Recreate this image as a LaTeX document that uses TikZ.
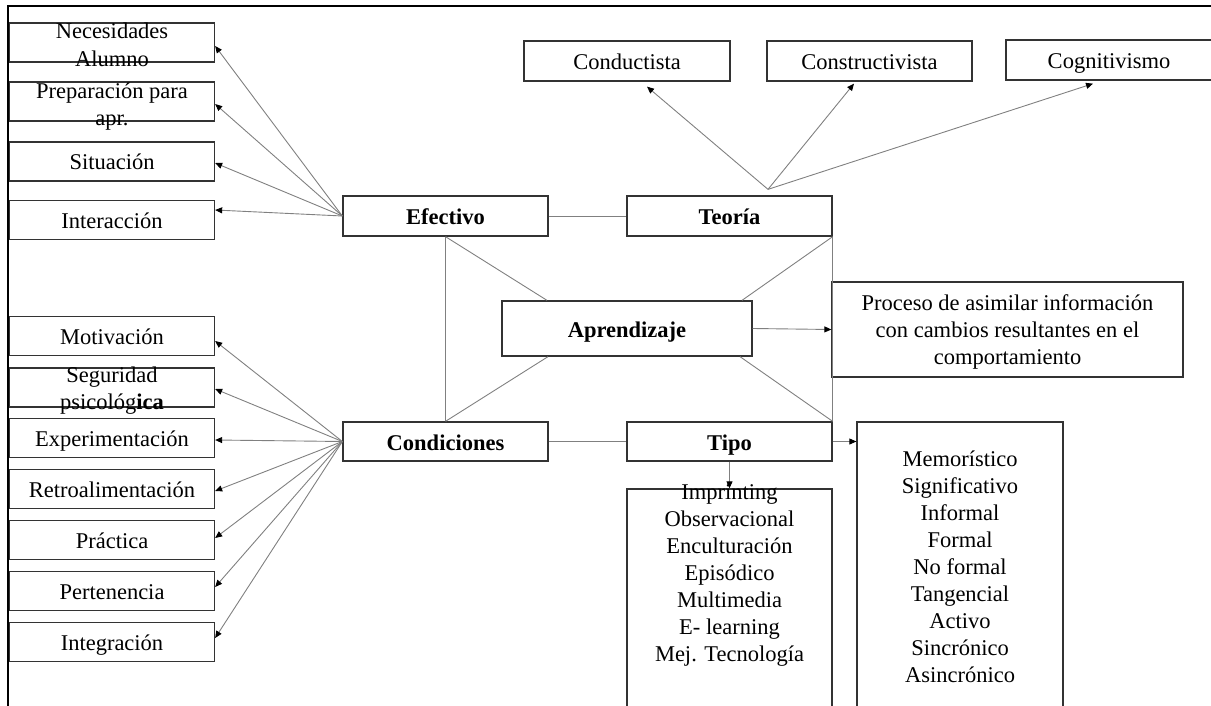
\documentclass[tikz,border=0pt]{standalone}
\usepackage{fontspec}
\setmainfont{Liberation Serif}
\usetikzlibrary{arrows.meta}
\begin{document}
\begin{tikzpicture}[x=1pt,y=-1pt,
  txt/.style={font=\fontsize{22.5}{27}\selectfont},
  bxbase/.style={txt, draw=black!80, line width=1.3pt, minimum width=205pt, minimum height=39pt, inner sep=0pt},
  bx/.style={bxbase, text height=17pt, text depth=0pt},
  bbx/.style={bx, font=\fontsize{22.5}{27}\selectfont\bfseries},
  lbl/.style={txt, align=center, inner sep=0pt},
  conn/.style={draw=black!50, line width=0.9pt},
  arr/.style={conn, -{Triangle[length=7pt,width=6pt,color=black]}}
]
\useasboundingbox (0,0) rectangle (1211,706);
% frame
\draw[line width=2pt] (8,706) -- (8,6) -- (1211,6);

% left boxes (Efectivo)
\node[bxbase, label={[lbl,yshift=-2pt]center:Necesidades\\[1pt]Alumno}] (nec) at (112,42.5) {};
\node[bxbase, label={[lbl,yshift=-5pt]center:Preparación para\\apr.}] (prep) at (112,101.5) {};
\node[bx] (sit) at (112,161.5) {Situación};
\node[bx] (inter) at (112,220) {Interacción};
% left boxes (Condiciones)
\node[bx] (mot) at (112,336) {Motivación};
\node[bxbase, label={[lbl,yshift=-3.5pt]center:Seguridad\\psicológ\textbf{ica}}] (seg) at (112,387.5) {};
\node[bx] (exp) at (112,438) {Experimentación};
\node[bx] (ret) at (112,489) {Retroalimentación};
\node[bx] (prac) at (112,540) {Práctica};
\node[bx] (pert) at (112,591) {Pertenencia};
\node[bx] (integ) at (112,642) {Integración};

% central boxes
\node[bbx, minimum height=40pt] (efe) at (445.5,216) {Efectivo};
\node[bbx, minimum height=40pt] (teo) at (729.5,216) {Teoría};
\node[bbx, minimum width=250pt, minimum height=55pt] (apr) at (627,328.5) {Aprendizaje};
\node[bbx] (cond) at (445.5,441.5) {Condiciones};
\node[bbx] (tipo) at (729.5,441.5) {Tipo};

% theories
\node[bx, minimum width=206pt, minimum height=40pt] (cdt) at (627,61) {Conductista};
\node[bx, minimum height=40pt] (cst) at (869.5,61) {Constructivista};
\node[bx, minimum width=206pt, minimum height=40pt] (cog) at (1109,60) {Cognitivismo};

% definition
\node[bxbase, minimum width=351pt, minimum height=95pt] (proc) at (1007.5,329.5) {};
\node[lbl] (proctxt) at (1007.5,331.5) {Proceso de asimilar información\\con cambios resultantes en el\\comportamiento};

% type lists
\node[bxbase, minimum height=241pt] (ltype) at (729.5,609.5) {};
\node[lbl] (ltypetxt) at (729.5,575) {Imprinting\\Observacional\\Enculturación\\Episódico\\Multimedia\\E- learning\\Mej. Tecnología};
\node[bxbase, minimum width=206pt, minimum height=308pt] (rtype) at (960,576) {};
\node[lbl] (rtypetxt) at (960,567) {Memorístico\\Significativo\\Informal\\Formal\\No formal\\Tangencial\\Activo\\Sincrónico\\Asincrónico};

% Efectivo fan
\draw[arr] (efe.west) -- ([yshift=-3.5pt]nec.east);
\draw[arr] (efe.west) -- ([yshift=-2.5pt]prep.east);
\draw[arr] (efe.west) -- ([yshift=-1.5pt]sit.east);
\draw[arr] (efe.west) -- ([yshift=10pt]inter.east);
% Condiciones fan
\draw[arr] (cond.west) -- ([yshift=-5pt]mot.east);
\draw[arr] (cond.west) -- ([yshift=-1.5pt]seg.east);
\draw[arr] (cond.west) -- ([yshift=-2pt]exp.east);
\draw[arr] (cond.west) -- ([yshift=-2pt]ret.east);
\draw[arr] (cond.west) -- ([yshift=2pt]prac.east);
\draw[arr] (cond.west) -- ([yshift=4pt]pert.east);
\draw[arr] (cond.west) -- ([yshift=4pt]integ.east);
% Teoria fan
\coordinate (teofan) at ([xshift=38.5pt,yshift=6pt]teo.north);
\draw[arr] (teofan) -- ([xshift=20pt,yshift=-5pt]cdt.south);
\draw[arr] (teofan) -- ([xshift=-15.5pt,yshift=-2pt]cst.south);
\draw[arr] (teofan) -- ([xshift=-16pt,yshift=-3pt]cog.south);

% plain connectors
\draw[conn] (efe.east) -- (teo.west);
\draw[conn] (cond.east) -- (tipo.west);
\draw[conn] (efe.south) -- (cond.north);
\draw[conn] (efe.south) -- ([xshift=-80pt]apr.north);
\draw[conn] (teo.south east) -- ([xshift=115pt]apr.north);
\draw[conn] ([xshift=-79pt]apr.south) -- (cond.north);
\draw[conn] ([xshift=113pt]apr.south) -- (tipo.north east);
\draw[conn] (teo.south east) -- (tipo.north east);

% arrows to definitions / lists
\draw[arr] (apr.east) -- (proc.west);
\draw[arr] (tipo.east) -- (tipo.east -| rtype.west);
\draw[arr] (tipo.south) -- (ltype.north);
\end{tikzpicture}
\end{document}
